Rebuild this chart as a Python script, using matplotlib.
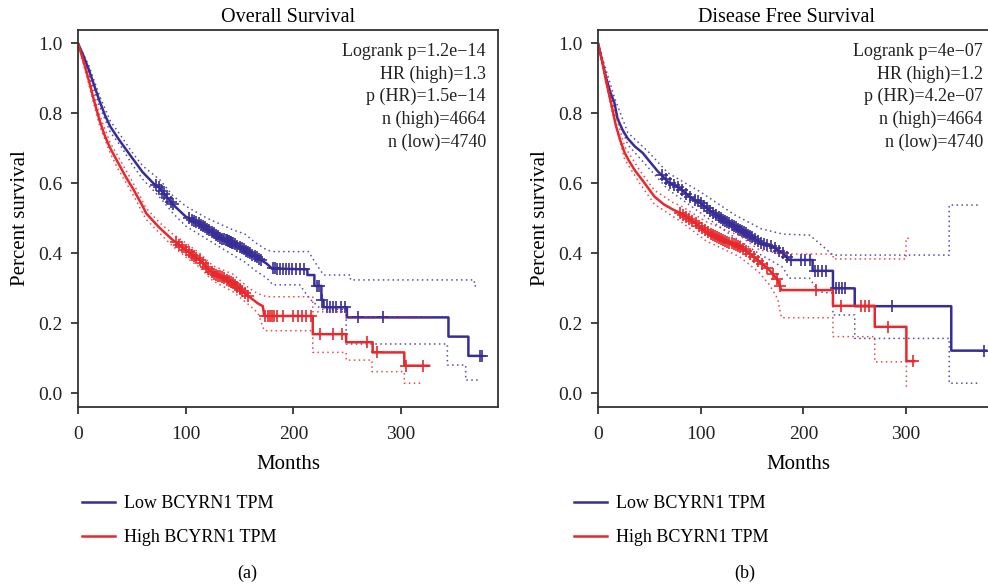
import numpy as np
import matplotlib
matplotlib.use("Agg")
import matplotlib.pyplot as plt
from matplotlib.lines import Line2D

plt.rcParams['font.family'] = ['Liberation Serif', 'DejaVu Serif']

BLUE = '#372d97'
RED = '#e8282b'

# ---------------- Overall Survival ----------------
os_low_t = [0, 5, 10, 15, 20, 25, 30, 38, 49, 60, 70, 76, 88, 100, 107, 120, 132, 144, 155, 165, 175, 180,
            213, 213, 219.5, 219.5, 226, 226, 228, 228, 249.7, 249.7, 344, 344, 362.5, 362.5, 375]
os_low_s = [1.0, 0.965, 0.925, 0.88, 0.835, 0.795, 0.762, 0.725, 0.678, 0.632, 0.60, 0.586, 0.54, 0.505, 0.495, 0.47,
            0.445, 0.429, 0.41, 0.39, 0.371, 0.357, 0.354, 0.338, 0.338, 0.307, 0.307, 0.267, 0.267, 0.246, 0.246,
            0.217, 0.217, 0.162, 0.162, 0.107, 0.107]
os_low_up_t = [0, 10, 20, 30, 40, 50, 60, 76, 88, 100, 120, 144, 155, 165, 175, 181, 214, 220, 228, 253, 253, 368, 368, 372]
os_low_up_s = [1.0, 0.937, 0.85, 0.778, 0.735, 0.69, 0.65, 0.61, 0.565, 0.535, 0.50, 0.467, 0.455, 0.43, 0.41, 0.405,
               0.405, 0.375, 0.338, 0.338, 0.324, 0.324, 0.307, 0.307]
os_low_lo_t = [0, 10, 20, 30, 40, 50, 60, 76, 88, 100, 120, 144, 155, 165, 175, 181, 206, 215, 226, 249, 249, 343, 343,
               360, 360, 373]
os_low_lo_s = [1.0, 0.913, 0.82, 0.746, 0.705, 0.655, 0.612, 0.56, 0.515, 0.478, 0.44, 0.395, 0.375, 0.35, 0.33, 0.31,
               0.31, 0.27, 0.24, 0.24, 0.141, 0.141, 0.081, 0.081, 0.038, 0.038]

os_high_t = [0, 5, 10, 15, 20, 25, 30, 37, 45, 51, 60, 63.4, 75, 88, 100, 113, 125, 135, 144, 159, 167, 171.6, 173,
             218, 218, 249, 249, 273.6, 273.6, 303, 303, 326]
os_high_s = [1.0, 0.95, 0.895, 0.835, 0.78, 0.735, 0.70, 0.66, 0.615, 0.585, 0.535, 0.514, 0.475, 0.438, 0.41, 0.381,
             0.343, 0.33, 0.314, 0.276, 0.257, 0.249, 0.221, 0.221, 0.169, 0.169, 0.146, 0.146, 0.117, 0.117, 0.079, 0.079]
os_high_up_t = [0, 10, 20, 30, 37, 51, 63, 75, 88, 100, 113, 125, 144, 159, 167, 175, 218, 218, 249, 249, 326]
os_high_up_s = [1.0, 0.907, 0.795, 0.715, 0.678, 0.602, 0.53, 0.49, 0.455, 0.43, 0.40, 0.365, 0.34, 0.30, 0.285, 0.276,
                0.276, 0.233, 0.233, 0.215, 0.215]
os_high_lo_t = [0, 10, 20, 30, 37, 51, 63, 75, 88, 100, 113, 125, 144, 159, 167, 173, 218, 218, 249, 249, 273, 273, 303,
                303, 320]
os_high_lo_s = [1.0, 0.883, 0.765, 0.685, 0.642, 0.568, 0.498, 0.46, 0.42, 0.39, 0.36, 0.322, 0.29, 0.252, 0.23, 0.179,
                0.179, 0.117, 0.117, 0.095, 0.095, 0.062, 0.062, 0.029, 0.029]

os_low_cens = [72, 75, 78, 80, 83, 86, 88, 103, 106, 108, 110, 112, 114, 116, 118, 120, 122, 124, 126, 128, 130, 132,
               134, 136, 137, 138, 139, 140, 141, 142, 143, 144, 146, 148, 150, 152, 154, 156, 158, 160, 162, 164, 166,
               168, 170, 181, 183, 185, 188, 190, 193, 196, 199, 202, 206, 210, 222, 224, 227, 231, 234, 237, 240, 244,
               248, 260, 283, 373, 375]
os_high_cens = [91, 94, 97, 100, 103, 106, 108, 110, 113, 116, 119, 121, 124, 126, 128, 130, 132, 134, 136, 138, 140,
                142, 144, 146, 148, 150, 152, 155, 158, 174, 176, 178, 180, 182, 185, 190, 200, 204, 208, 212, 216, 225,
                237, 245, 268, 278, 305, 320]

# ---------------- Disease Free Survival ----------------
dfs_low_t = [0, 4, 8, 12, 16, 19, 24, 29, 36, 43.5, 49, 58, 68, 80, 90, 100, 110, 120, 133, 145, 159, 170, 180, 186.5,
             209, 209, 228.8, 228.8, 250, 250, 344, 344, 378]
dfs_low_s = [1.0, 0.95, 0.90, 0.86, 0.83, 0.785, 0.752, 0.728, 0.705, 0.687, 0.667, 0.635, 0.605, 0.585, 0.56, 0.543,
             0.52, 0.50, 0.476, 0.455, 0.429, 0.419, 0.40, 0.381, 0.381, 0.35, 0.35, 0.30, 0.30, 0.249, 0.249, 0.122,
             0.122]
dfs_low_up_t = [0, 16, 29, 49, 68, 100, 133, 159, 180, 206, 215, 228.8, 342, 342, 371]
dfs_low_up_s = [1.0, 0.845, 0.745, 0.69, 0.63, 0.575, 0.51, 0.47, 0.455, 0.452, 0.43, 0.395, 0.395, 0.538, 0.538]
dfs_low_lo_t = [0, 16, 29, 49, 68, 100, 133, 159, 180, 186, 206, 215, 228.8, 228.8, 250, 250, 342, 342, 371]
dfs_low_lo_s = [1.0, 0.815, 0.71, 0.645, 0.583, 0.515, 0.445, 0.395, 0.36, 0.329, 0.329, 0.29, 0.286, 0.224, 0.224,
                0.157, 0.157, 0.029, 0.029]

dfs_high_t = [0, 4, 8, 12.7, 17.5, 22, 26, 30, 35.7, 40.6, 48, 55, 64, 73, 81, 93, 105.5, 120, 138, 147.6, 157.4, 167,
              175, 178.6, 228.8, 228.8, 269.5, 269.5, 300.3, 300.3, 308]
dfs_high_s = [1.0, 0.95, 0.89, 0.83, 0.764, 0.72, 0.687, 0.665, 0.638, 0.619, 0.59, 0.562, 0.54, 0.525, 0.514, 0.49,
              0.462, 0.44, 0.419, 0.40, 0.376, 0.352, 0.324, 0.295, 0.295, 0.25, 0.25, 0.19, 0.19, 0.092, 0.092]
dfs_high_up_t = [0, 12.7, 26, 40.6, 55, 73, 81, 105.5, 138, 157, 175, 190, 229, 229, 300, 300, 305]
dfs_high_up_s = [1.0, 0.842, 0.705, 0.637, 0.58, 0.545, 0.535, 0.49, 0.45, 0.41, 0.40, 0.398, 0.398, 0.384, 0.384, 0.443,
                 0.443]
dfs_high_lo_t = [0, 12.7, 26, 40.6, 55, 81, 105.5, 138, 157, 167, 175, 178.6, 228.8, 228.8, 269.5, 269.5, 300.3, 300.3,
                 302]
dfs_high_lo_s = [1.0, 0.818, 0.668, 0.60, 0.54, 0.49, 0.435, 0.39, 0.345, 0.31, 0.27, 0.216, 0.216, 0.162, 0.162, 0.09,
                 0.09, 0.019, 0.019]

dfs_low_cens = [62, 66, 70, 74, 78, 82, 86, 90, 94, 97, 100, 103, 106, 109, 112, 115, 118, 120, 122, 124, 126, 128, 130,
                132, 134, 136, 138, 140, 142, 144, 146, 148, 150, 153, 156, 159, 162, 165, 168, 172, 176, 180, 184, 188,
                198, 202, 206, 211, 214, 218, 222, 232, 235, 238, 241, 286, 376]
dfs_high_cens = [80, 83, 86, 89, 92, 95, 98, 101, 104, 107, 110, 112, 114, 116, 118, 120, 122, 124, 126, 128, 130, 132,
                 134, 136, 138, 141, 144, 148, 152, 156, 160, 165, 170, 174, 177, 212, 237, 256, 260, 264, 282, 307]

legend_labels = ['Low BCYRN1 TPM', 'High BCYRN1 TPM']
titles = ['Overall Survival', 'Disease Free Survival']
stats = ['Logrank p=1.2e\u221214\nHR (high)=1.3\np (HR)=1.5e\u221214\nn (high)=4664\nn (low)=4740',
         'Logrank p=4e\u221207\nHR (high)=1.2\np (HR)=4.2e\u221207\nn (high)=4664\nn (low)=4740']
captions = ['(a)', '(b)']
yticks = [0.0, 0.2, 0.4, 0.6, 0.8, 1.0]
xticks = [0, 100, 200, 300]

W, H = 988, 588
fig = plt.figure(figsize=(W / 100, H / 100), dpi=100)

def fx(px):
    return px / W

def fy(py):
    return 1 - py / H

ax1 = fig.add_axes([fx(78), fy(407), fx(420), 377 / H])
ax2 = fig.add_axes([fx(598), fy(407), fx(400.5), 377 / H])

panels = [
    (ax1, (os_low_t, os_low_s, os_low_up_t, os_low_up_s, os_low_lo_t, os_low_lo_s, os_low_cens),
          (os_high_t, os_high_s, os_high_up_t, os_high_up_s, os_high_lo_t, os_high_lo_s, os_high_cens)),
    (ax2, (dfs_low_t, dfs_low_s, dfs_low_up_t, dfs_low_up_s, dfs_low_lo_t, dfs_low_lo_s, dfs_low_cens),
          (dfs_high_t, dfs_high_s, dfs_high_up_t, dfs_high_up_s, dfs_high_lo_t, dfs_high_lo_s, dfs_high_cens)),
]

for i, (ax, low, high) in enumerate(panels):
    for data, col in ((low, BLUE), (high, RED)):
        t, s, ut, us, lt, ls, cens = data
        ax.plot(ut, us, color=col, lw=1.1, ls=(0, (1, 2.2)), alpha=0.85)
        ax.plot(lt, ls, color=col, lw=1.1, ls=(0, (1, 2.2)), alpha=0.85)
        ax.plot(t, s, color=col, lw=1.8)
        cy = np.interp(cens, t, s)
        ax.plot(cens, cy, ls='none', marker='+', ms=8.5, mew=1.2, color=col)
    ax.set_xlim(0, 390)
    ax.set_ylim(-0.039, 1.038)
    ax.set_xticks(xticks)
    ax.set_yticks(yticks)
    ax.set_yticklabels([f'{v:.1f}' for v in yticks])
    ax.tick_params(direction='out', length=5, width=1.2, labelsize=14, colors='#222222', pad=6)
    ax.tick_params(axis='x', pad=9)
    for sp in ax.spines.values():
        sp.set_color('#333333')
        sp.set_linewidth(1.3)
    ax.set_xlabel('Months', fontsize=15, labelpad=8)
    ax.set_ylabel('Percent survival', fontsize=15, labelpad=6)
    ax.text(0.971 if i == 0 else 0.961, 0.966, stats[i], transform=ax.transAxes, ha='right', va='top',
            multialignment='right', fontsize=13, linespacing=1.41, color='#222222')
    handles = [Line2D([], [], color=BLUE, lw=1.8), Line2D([], [], color=RED, lw=1.8)]
    fig.legend(handles, legend_labels, loc='center left',
               bbox_to_anchor=(fx(82 if i == 0 else 574), fy(520.5)), frameon=False, fontsize=13,
               handlelength=1.8, handletextpad=0.55, labelspacing=0.95, borderpad=0, borderaxespad=0)
    fig.text(fx(247 if i == 0 else 745), fy(573), captions[i], ha='center', va='center', fontsize=13)

ax1.set_title(titles[0], fontsize=14.5, pad=6)
ax2.set_title(titles[1], fontsize=14.5, pad=6, x=(786 - 598) / 400.5)

fig.savefig('out.png', dpi=100)
